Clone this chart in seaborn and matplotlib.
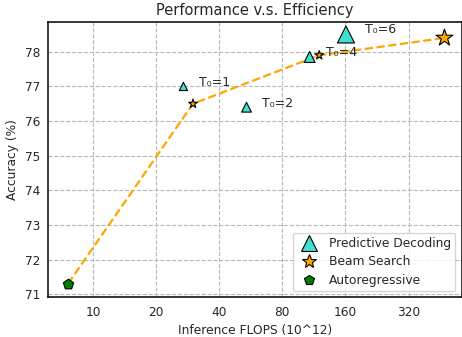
import matplotlib
matplotlib.use("Agg")
import matplotlib.pyplot as plt
from matplotlib.lines import Line2D
import seaborn as sns
import pandas as pd

# ---- data ----
pd_flops = [27, 54, 108, 161]
pd_acc = [77.0, 76.4, 77.85, 78.5]
pd_labels = ["T\u2080=1", "T\u2080=2", "T\u2080=4", "T\u2080=6"]
pd_sizes = [35, 50, 62, 150]

bs_flops = [30, 120, 475]
bs_acc = [76.5, 77.9, 78.4]
bs_sizes = [45, 45, 160]

ar_flops = [7.6]
ar_acc = [71.3]

curve_flops = [7.6, 30, 120, 475]
curve_acc = [71.3, 76.5, 77.9, 78.4]

xticks = [10, 20, 40, 80, 160, 320]
yticks = [71, 72, 73, 74, 75, 76, 77, 78]

sns.set_theme(style="whitegrid")
plt.rcParams["font.family"] = ["DejaVu Sans"]

fig = plt.figure(figsize=(4.62, 3.37), dpi=100)
ax = fig.add_axes([0.1045, 0.1178, 0.8945, 0.8169])

df_pd = pd.DataFrame({"x": pd_flops, "y": pd_acc, "s": pd_sizes})
df_bs = pd.DataFrame({"x": bs_flops, "y": bs_acc, "s": bs_sizes})
df_ar = pd.DataFrame({"x": ar_flops, "y": ar_acc})
df_curve = pd.DataFrame({"x": curve_flops, "y": curve_acc})

sns.lineplot(data=df_curve, x="x", y="y", ax=ax, color="orange",
             linestyle="--", linewidth=1.6, zorder=2, sort=False)
ax.scatter(df_pd["x"], df_pd["y"], s=df_pd["s"], marker="^",
           color="turquoise", edgecolor="black", linewidth=0.8, zorder=3)
ax.scatter(df_bs["x"], df_bs["y"], s=df_bs["s"], marker="*",
           color="orange", edgecolor="black", linewidth=0.8, zorder=4)
sns.scatterplot(data=df_ar, x="x", y="y", ax=ax, marker="p", s=60,
                color="green", edgecolor="black", linewidth=0.8, zorder=4)

offsets = [(11, 2.5), (11, 3), (12, 3), (14, 3.5)]
for xv, yv, lab, off in zip(pd_flops, pd_acc, pd_labels, offsets):
    ax.annotate(lab, (xv, yv), xytext=off, textcoords="offset points",
                fontsize=9, color=".15", va="center", ha="left")

ax.set_xscale("log", base=2)
ax.set_xlim(6.12, 573)
ax.set_ylim(70.91, 78.86)
ax.set_xticks(xticks)
ax.set_xticklabels([str(t) for t in xticks])
ax.set_yticks(yticks)
ax.set_yticklabels([str(t) for t in yticks])
ax.minorticks_off()
ax.tick_params(axis="both", labelsize=8.7, length=0, pad=6, colors=".15")

ax.grid(True, linestyle="--", color="#b8b8b8", linewidth=0.8)
for sp in ax.spines.values():
    sp.set_edgecolor("black")
    sp.set_linewidth(1.1)

ax.set_xlabel("Inference FLOPS (10^12)", fontsize=8.8, color=".15")
ax.set_ylabel("Accuracy (%)", fontsize=8.8, color=".15")
ax.set_title("Performance v.s. Efficiency", fontsize=10.5, color=".15", pad=5)

handles = [
    Line2D([], [], linestyle="none", marker="^", markersize=11,
           markerfacecolor="turquoise", markeredgecolor="black", markeredgewidth=0.8),
    Line2D([], [], linestyle="none", marker="*", markersize=10.5,
           markerfacecolor="orange", markeredgecolor="black", markeredgewidth=0.8),
    Line2D([], [], linestyle="none", marker="p", markersize=7.5,
           markerfacecolor="green", markeredgecolor="black", markeredgewidth=0.8),
]
leg = ax.legend(handles, ["Predictive Decoding", "Beam Search", "Autoregressive"],
                loc="lower right", fontsize=8.8, frameon=True,
                handletextpad=0.6, borderpad=0.35, labelspacing=0.45,
                borderaxespad=0.5)
leg.get_frame().set_edgecolor("#cccccc")
for t in leg.get_texts():
    t.set_color(".15")

fig.savefig("out.png", dpi=100)
